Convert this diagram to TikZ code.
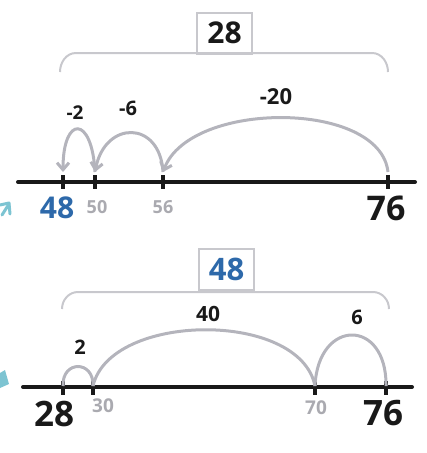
\documentclass[tikz,border=0pt]{standalone}
\usepackage{fontspec}
\setmainfont{Open Sans}
\usetikzlibrary{arrows.meta}
\definecolor{inkblack}{RGB}{25,25,25}
\definecolor{arcgray}{RGB}{180,180,188}
\definecolor{labgray}{RGB}{170,170,176}
\definecolor{bracegray}{RGB}{200,200,205}
\definecolor{inkblue}{RGB}{45,105,170}
\definecolor{cyanmark}{RGB}{125,196,210}
\newcommand{\fsz}[1]{\fontsize{#1}{#1}\selectfont\bfseries}
\tikzset{
  numline/.style={line width=4pt, inkblack, line cap=round},
  tickmark/.style={line width=3.5pt, inkblack},
  jump/.style={line width=3pt, arcgray},
  jumparrow/.style={jump, -{Straight Barb[length=7pt,width=12pt,line width=3pt]}},
  bracket/.style={line width=2pt, bracegray},
  valbox/.style={draw=bracegray, line width=2pt, minimum width=55pt, minimum height=41pt, inner sep=0pt},
  lab/.style={inner sep=0pt}
}
\begin{document}
\begin{tikzpicture}[x=1pt,y=-1pt]
\useasboundingbox (0,0) rectangle (427,453);

% ---------- top number line ----------
\coordinate (tl) at (18,182);
\coordinate (tr) at (415,182);
\draw[numline] (tl) -- (tr);
\foreach \n/\x in {t48/63,t50/95,t56/163,t76/388}{
  \coordinate (\n) at (\x,182);
  \coordinate (\n top) at (\x,172);
  \draw[tickmark] (\x,175) -- (\x,189);
}
\node[lab, text=inkblue, font=\fsz{30}] (l48) at (57,208) {48};
\node[lab, text=labgray, font=\fsz{18}] (l50) at (97,207) {50};
\node[lab, text=labgray, font=\fsz{18}] (l56) at (163,207) {56};
\node[lab, text=inkblack, font=\fsz{34}] (l76) at (386,208) {76};

\draw[jumparrow] (t76top) .. controls (380,100) and (190,100) .. (t56top);
\draw[jumparrow] (t56top) .. controls (160,120) and (105,120) .. (t50top);
\draw[jumparrow] (t50top) .. controls (92,115) and (63,115) .. (t48top);

\node[lab, text=inkblack, font=\fsz{19}] (m2) at (75,113) {-2};
\node[lab, text=inkblack, font=\fsz{20}] (m6) at (128,108) {-6};
\node[lab, text=inkblack, font=\fsz{22}] (m20) at (276,97) {-20};

\coordinate (tbl) at (60,72);
\coordinate (tbr) at (388,72);
\draw[bracket] (tbl) to[out=90,in=180] (76,53) -- (372,53) to[out=0,in=90] (tbr);
\node[valbox, font=\fsz{30}, text=inkblack] (box28) at (224.5,33) {28};

% ---------- bottom number line ----------
\coordinate (bl) at (23,387);
\coordinate (br) at (412,387);
\draw[numline] (bl) -- (br);
\foreach \n/\x in {b28/63,b30/93,b70/315,b76/386}{
  \coordinate (\n) at (\x,386);
  \draw[tickmark] (\x,381) -- (\x,395);
}
\node[lab, text=inkblack, font=\fsz{35}] (k28) at (54,414) {28};
\node[lab, text=labgray, font=\fsz{19}] (k30) at (103,406) {30};
\node[lab, text=labgray, font=\fsz{19}] (k70) at (316,408) {70};
\node[lab, text=inkblack, font=\fsz{35}] (k76) at (383,413) {76};

\draw[jump] (b28) .. controls (62,360) and (94,360) .. (b30);
\draw[jump] (b30) .. controls (110,312) and (300,310) .. (b70);
\draw[jump] (b70) .. controls (318,318) and (387,318) .. (b76);

\node[lab, text=inkblack, font=\fsz{20}] (p2) at (80,347) {2};
\node[lab, text=inkblack, font=\fsz{21}] (p40) at (208,314) {40};
\node[lab, text=inkblack, font=\fsz{20}] (p6) at (357,317) {6};

\coordinate (bbl) at (62,309);
\coordinate (bbr) at (389,309);
\draw[bracket] (bbl) to[out=90,in=180] (78,292) -- (373,292) to[out=0,in=90] (bbr);
\node[valbox, font=\fsz{31}, text=inkblue] (box48) at (226.5,269.5) {48};

% ---------- cut-off cyan marks at left edge ----------
\draw[cyanmark, line width=3pt, line cap=round, line join=round] (0,205) -- (9,203) -- (10,214);
\draw[cyanmark, line width=3pt, line cap=round] (2,215) -- (9,204);
\fill[cyanmark] (0,373) -- (5,370) -- (9,384) -- (0,388) -- cycle;
\end{tikzpicture}
\end{document}
